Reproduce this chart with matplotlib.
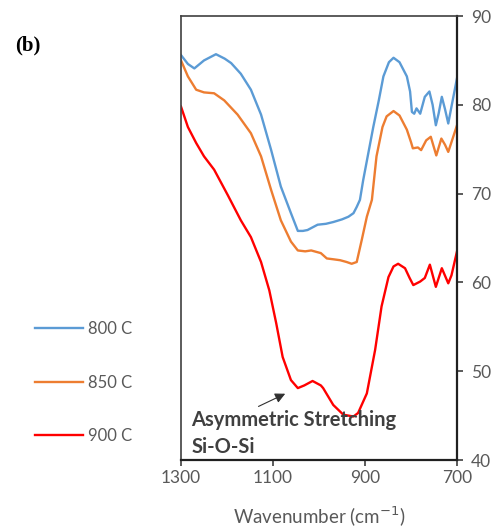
import numpy as np
import matplotlib
matplotlib.use('Agg')
import matplotlib.pyplot as plt

# FTIR spectra (wavenumber cm-1, transmittance %)
wn_800 = [1300, 1285, 1271, 1250, 1224, 1205, 1191, 1170, 1148, 1126, 1104, 1083,
          1061, 1046, 1035, 1025, 1003, 985, 969, 950, 936, 925, 918, 911, 904,
          893, 882, 870, 860, 848, 838, 825, 809, 802, 798, 793, 788, 780, 770,
          760, 753, 746, 740, 733, 726, 719, 712, 700]
t_800 = [85.6, 84.6, 84.1, 85.0, 85.7, 85.2, 84.7, 83.5, 81.7, 78.9, 74.9, 70.8,
         67.8, 65.8, 65.8, 65.9, 66.5, 66.6, 66.8, 67.1, 67.4, 67.8, 68.5, 69.3, 71.5,
         74.5, 77.5, 80.5, 83.2, 84.8, 85.3, 84.8, 83.2, 81.5, 79.2, 79.0, 79.6, 79.0, 80.9,
         81.5, 80.0, 77.7, 79.0, 80.9, 79.5, 77.9, 79.8, 83.0]

wn_850 = [1300, 1285, 1267, 1250, 1228, 1206, 1177, 1148, 1126, 1104, 1083, 1061,
          1046, 1030, 1017, 996, 983, 968, 954, 940, 929, 918, 907, 896, 885,
          875, 862, 853, 838, 825, 809, 800, 796, 785, 778, 767, 757, 745, 734,
          726, 719, 712, 700]
t_850 = [85.0, 83.2, 81.7, 81.4, 81.3, 80.5, 78.9, 76.8, 74.2, 70.4, 67.0, 64.6,
         63.6, 63.5, 63.6, 63.3, 62.7, 62.6, 62.5, 62.3, 62.1, 62.3, 64.8, 67.4, 69.3,
         74.2, 77.5, 78.7, 79.3, 78.8, 77.2, 75.8, 75.1, 75.2, 74.9, 76.0, 76.4, 74.3, 76.2,
         75.5, 74.7, 75.8, 77.7]

wn_900 = [1300, 1285, 1267, 1250, 1228, 1198, 1170, 1148, 1126, 1108, 1093, 1079,
          1061, 1046, 1032, 1014, 996, 991, 969, 947, 925, 915, 896, 878, 864,
          849, 838, 828, 813, 803, 795, 780, 770, 759, 746, 733, 719, 712, 700]
t_900 = [79.8, 77.5, 75.7, 74.2, 72.7, 69.8, 67.0, 65.1, 62.3, 59.1, 55.4, 51.6,
         49.0, 48.1, 48.4, 48.9, 48.4, 48.1, 46.2, 45.1, 44.9, 45.3, 47.5, 52.4, 57.3,
         60.6, 61.8, 62.1, 61.6, 60.5, 59.7, 60.1, 60.5, 62.0, 59.5, 61.6, 59.9, 60.8, 63.5]

labels = ['800 C', '850 C', '900 C']
colors = ['#5B9BD5', '#ED7D31', '#FF0000']
xticks = [1300, 1100, 900, 700]
yticks = [40, 50, 60, 70, 80, 90]

plt.rcParams['font.family'] = ['Lato', 'DejaVu Sans']
grey = '#595959'

fig = plt.figure(figsize=(5.0, 5.29), dpi=100)
ax = fig.add_axes([0.362, 0.1304, 0.552, 0.8393])

lines = []
for wn, t, lab, c in zip([wn_800, wn_850, wn_900], [t_800, t_850, t_900], labels, colors):
    l, = ax.plot(wn, t, color=c, lw=1.7, label=lab, solid_joinstyle='round')
    lines.append(l)

ax.set_xlim(1300, 700)
ax.set_ylim(40, 90)
ax.set_xticks(xticks)
ax.set_yticks(yticks)
ax.yaxis.tick_right()
ax.tick_params(axis='both', direction='out', length=4, width=1.2, colors='#404040',
               labelsize=12.5, labelcolor=grey)
ax.tick_params(axis='y', pad=6)
for s in ax.spines.values():
    s.set_color('#404040')
    s.set_linewidth(1.2)
ax.spines['right'].set_color('#202020')
ax.spines['right'].set_linewidth(1.6)
ax.spines['bottom'].set_color('#202020')
ax.spines['bottom'].set_linewidth(1.6)

ax.set_xlabel('Wavenumber (cm$^{-1}$)', fontsize=13.5, color=grey, labelpad=13)

# annotation
ax.annotate('', xy=(1068, 47.6), xytext=(1137, 45.9),
            arrowprops=dict(arrowstyle='-|>', color='#303030', lw=0.8, mutation_scale=15))
ax.text(1278, 44.5, 'Asymmetric Stretching', fontsize=14.5, fontweight='bold',
        color='#404040', va='center', ha='left')
ax.text(1278, 41.5, 'Si-O-Si', fontsize=14.5, fontweight='bold',
        color='#404040', va='center', ha='left')

fig.legend(handles=lines, loc='upper left', bbox_to_anchor=(0.04, 0.421),
           frameon=False, fontsize=12, labelcolor=grey, handlelength=2.9,
           handletextpad=0.3, labelspacing=2.24)

fig.text(0.03, 0.905, '(b)', fontsize=15, fontweight='bold',
         family='Liberation Serif', color='black')

fig.savefig('out.png', dpi=100)
